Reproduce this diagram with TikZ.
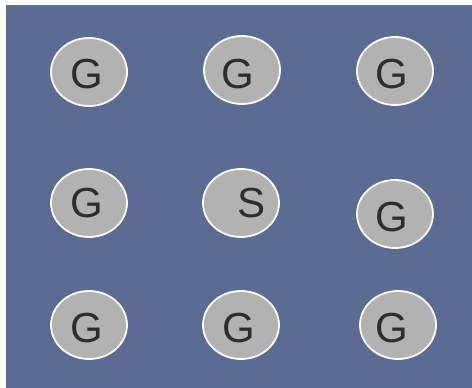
\documentclass[tikz,border=0pt]{standalone}
\usepackage{fontspec}
\setmainfont{Liberation Sans}
\usetikzlibrary{shapes.geometric}
\definecolor{bgblue}{RGB}{91,107,145}
\definecolor{cellgray}{RGB}{178,178,178}
\definecolor{txt}{RGB}{45,45,45}
\begin{document}
\begin{tikzpicture}[x=1pt,y=-1pt,
  cell/.style={ellipse,draw=white,line width=1.8pt,fill=cellgray,minimum width=76pt,minimum height=68pt,inner sep=0pt},
  lab/.style={inner sep=0pt,text=txt,font=\fontsize{42}{42}\selectfont}]
\useasboundingbox (0,0) rectangle (472,388);
\fill[bgblue] (6,5) rectangle (472,388);
\node[cell] (a1) at (89,72) {};
\node[cell] (a2) at (242,70) {};
\node[cell] (a3) at (395,71) {};
\node[cell] (b1) at (89,203) {};
\node[cell] (b2) at (241,203) {};
\node[cell] (b3) at (395,214) {};
\node[cell] (c1) at (89,325) {};
\node[cell] (c2) at (241,325) {};
\node[cell] (c3) at (398,325) {};
\node[lab] (ta1) at ([shift={(-2,2)}]a1.center) {G};
\node[lab] (ta2) at ([shift={(-4,4)}]a2.center) {G};
\node[lab] (ta3) at ([shift={(-3,3)}]a3.center) {G};
\node[lab] (tb1) at ([shift={(-2,0)}]b1.center) {G};
\node[lab] (tb2) at ([shift={(11,0)}]b2.center) {S};
\node[lab] (tb3) at ([shift={(-3,3)}]b3.center) {G};
\node[lab] (tc1) at ([shift={(-2,3)}]c1.center) {G};
\node[lab] (tc2) at ([shift={(-2,3)}]c2.center) {G};
\node[lab] (tc3) at ([shift={(-6,3)}]c3.center) {G};
\end{tikzpicture}
\end{document}
